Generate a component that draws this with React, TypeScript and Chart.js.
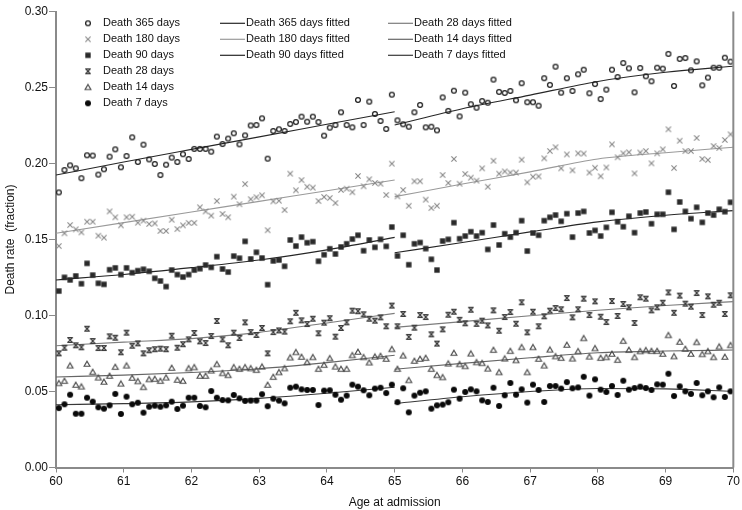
import React, { useEffect, useRef } from 'react';
import { Chart, registerables } from 'chart.js';

Chart.register(...registerables);

// ---- Observed death rates (monthly age groups, 60.0 - 70.0) ----
const death365 = [
  0.181, 0.1957, 0.1988, 0.1968, 0.1903, 0.2054, 0.2052, 0.1927, 0.1962, 0.2045,
  0.2093, 0.1975, 0.2049, 0.2172, 0.201, 0.2124, 0.2027, 0.1997, 0.1924, 0.1992,
  0.2039, 0.201, 0.2061, 0.203, 0.2096, 0.2096, 0.2096, 0.2078, 0.2177, 0.2128,
  0.2164, 0.2199, 0.2126, 0.2185, 0.225, 0.2253, 0.2297, 0.2032, 0.2214, 0.2225,
  0.2214, 0.226, 0.2273, 0.2308, 0.2275, 0.2308, 0.2273, 0.2183, 0.2236, 0.2253,
  0.2337, 0.2253, 0.2238, 0.2418, 0.2253, 0.2407, 0.2326, 0.228, 0.2227, 0.2453,
  0.2284, 0.2258, 0.2242, 0.2337, 0.2385, 0.2238, 0.2242, 0.2218, 0.2435, 0.2346,
  0.2479, 0.231, 0.2466, 0.239, 0.2367, 0.2411, 0.24, 0.2552, 0.2471, 0.2464,
  0.2477, 0.2416, 0.2528, 0.2403, 0.2403, 0.238, 0.2561, 0.2517, 0.2637, 0.2466,
  0.2561, 0.2477, 0.2587, 0.2617, 0.2462, 0.2523, 0.2424, 0.2486, 0.2617, 0.2569,
  0.2661, 0.2626, 0.2468, 0.2628, 0.2574, 0.2541, 0.263, 0.2624, 0.2721, 0.251,
  0.2688, 0.2694, 0.2613, 0.2672, 0.2514, 0.2565, 0.263, 0.263, 0.2696, 0.267,
];
const death180 = [
  0.1457, 0.1541, 0.1595, 0.1567, 0.1547, 0.1617, 0.1617, 0.1525, 0.1512, 0.1685,
  0.1646, 0.1593, 0.1646, 0.165, 0.1611, 0.1624, 0.1602, 0.1606, 0.1556, 0.1556,
  0.163, 0.1569, 0.1593, 0.1609, 0.1609, 0.1712, 0.1685, 0.1657, 0.1753, 0.1668,
  0.1646, 0.1782, 0.1732, 0.1865, 0.1765, 0.1778, 0.1791, 0.1561, 0.1751, 0.1755,
  0.1694, 0.1933, 0.1824, 0.1891, 0.1847, 0.1841, 0.1753, 0.178, 0.1773, 0.174,
  0.1826, 0.1834, 0.1811, 0.1918, 0.185, 0.1896, 0.1872, 0.1867, 0.1793, 0.1999,
  0.1784, 0.1826, 0.1722, 0.1883, 0.1883, 0.1762, 0.1707, 0.1722, 0.1924, 0.1872,
  0.203, 0.1867, 0.1931, 0.1907, 0.1887, 0.1968, 0.1847, 0.2018, 0.1933, 0.1948,
  0.194, 0.194, 0.2025, 0.1876, 0.1913, 0.1915, 0.2034, 0.2082, 0.2107, 0.1968,
  0.206, 0.1955, 0.2067, 0.2065, 0.194, 0.1972, 0.1916, 0.1974, 0.2126, 0.2041,
  0.2067, 0.2074, 0.1935, 0.2072, 0.2082, 0.2001, 0.2067, 0.2093, 0.2225, 0.197,
  0.215, 0.2082, 0.2082, 0.2168, 0.203, 0.2023, 0.2115, 0.2102, 0.2155, 0.2192,
];
const death90 = [
  0.1161, 0.1251, 0.1234, 0.126, 0.1209, 0.1343, 0.1266, 0.1212, 0.1205, 0.1301,
  0.1313, 0.1269, 0.1313, 0.1282, 0.1295, 0.1304, 0.1291, 0.1245, 0.1227, 0.119,
  0.1299, 0.1269, 0.1253, 0.1269, 0.1299, 0.1308, 0.1332, 0.1317, 0.1387, 0.1306,
  0.1286, 0.1391, 0.1377, 0.1488, 0.1372, 0.1416, 0.1378, 0.1203, 0.1359, 0.1365,
  0.1324, 0.1497, 0.1457, 0.1516, 0.1479, 0.1486, 0.1357, 0.14, 0.1439, 0.1405,
  0.1451, 0.1472, 0.1503, 0.1528, 0.1426, 0.1497, 0.1449, 0.1501, 0.1455, 0.1582,
  0.1392, 0.1528, 0.1334, 0.1472, 0.148, 0.144, 0.137, 0.1299, 0.149, 0.1501,
  0.1611, 0.1505, 0.1523, 0.1551, 0.1523, 0.1545, 0.1435, 0.1595, 0.1464, 0.1538,
  0.1516, 0.1545, 0.1624, 0.1424, 0.1543, 0.1528, 0.1624, 0.1646, 0.1661, 0.162,
  0.167, 0.1516, 0.1674, 0.1685, 0.1543, 0.156, 0.1523, 0.158, 0.1679, 0.1617,
  0.1584, 0.1653, 0.1545, 0.1674, 0.1681, 0.1604, 0.1666, 0.1666, 0.1811, 0.1567,
  0.1747, 0.1685, 0.1637, 0.1712, 0.1613, 0.1674, 0.1661, 0.1699, 0.1683, 0.1745,
];
const death28 = [
  0.0751, 0.0788, 0.0839, 0.0804, 0.0791, 0.0913, 0.0832, 0.0786, 0.0786, 0.0863,
  0.0854, 0.0758, 0.0887, 0.0801, 0.0817, 0.0751, 0.0771, 0.0778, 0.0782, 0.0778,
  0.0867, 0.0788, 0.0811, 0.0843, 0.0885, 0.083, 0.0819, 0.0865, 0.0964, 0.0843,
  0.0804, 0.0887, 0.0852, 0.0955, 0.0891, 0.0872, 0.0918, 0.0751, 0.0891, 0.0902,
  0.0894, 0.0962, 0.1018, 0.0968, 0.0944, 0.0979, 0.0883, 0.0953, 0.0982, 0.0861,
  0.0918, 0.0955, 0.1032, 0.1028, 0.1008, 0.0979, 0.0966, 0.0988, 0.0929, 0.1065,
  0.0929, 0.101, 0.0859, 0.092, 0.1003, 0.099, 0.0876, 0.0815, 0.0909, 0.1005,
  0.1025, 0.0972, 0.0949, 0.1038, 0.0945, 0.0966, 0.0935, 0.1034, 0.09, 0.099,
  0.1023, 0.0946, 0.1087, 0.0889, 0.1025, 0.0929, 0.0995, 0.1032, 0.1049, 0.1041,
  0.1115, 0.0988, 0.1041, 0.1111, 0.1003, 0.1093, 0.0992, 0.0957, 0.1095, 0.0997,
  0.1076, 0.1054, 0.0951, 0.112, 0.1111, 0.1034, 0.1054, 0.1084, 0.1152, 0.1018,
  0.1131, 0.1078, 0.1058, 0.1148, 0.1003, 0.1126, 0.1071, 0.1084, 0.101, 0.1133,
];
const death14 = [
  0.0554, 0.0569, 0.067, 0.0543, 0.0532, 0.0681, 0.0628, 0.0591, 0.0563, 0.0602,
  0.0661, 0.0551, 0.067, 0.0589, 0.0567, 0.0528, 0.058, 0.0582, 0.0569, 0.0591,
  0.0655, 0.0576, 0.0569, 0.0652, 0.0659, 0.0602, 0.0602, 0.0637, 0.0679, 0.062,
  0.0607, 0.0659, 0.0648, 0.0659, 0.0652, 0.0641, 0.0663, 0.0543, 0.0595, 0.0626,
  0.0652, 0.0723, 0.0758, 0.0727, 0.0692, 0.0725, 0.0648, 0.0674, 0.0718, 0.0663,
  0.0648, 0.0648, 0.0738, 0.076, 0.0725, 0.069, 0.0729, 0.0733, 0.0714, 0.0778,
  0.0648, 0.0736, 0.0574, 0.0701, 0.0714, 0.072, 0.0648, 0.0607, 0.0593, 0.0683,
  0.0753, 0.0679, 0.0666, 0.0749, 0.0692, 0.0686, 0.065, 0.0773, 0.0626, 0.0716,
  0.0766, 0.0705, 0.0791, 0.0626, 0.0791, 0.0714, 0.067, 0.0775, 0.0731, 0.072,
  0.0806, 0.0716, 0.0764, 0.085, 0.0729, 0.0784, 0.072, 0.0725, 0.0747, 0.0707,
  0.0832, 0.0773, 0.0725, 0.0764, 0.0771, 0.0766, 0.0766, 0.0747, 0.087, 0.0731,
  0.0826, 0.078, 0.0747, 0.0824, 0.0745, 0.0764, 0.0725, 0.0795, 0.0727, 0.0804,
];
const death7 = [
  0.0391, 0.0416, 0.0479, 0.0354, 0.0354, 0.0459, 0.0433, 0.0396, 0.0387, 0.0409,
  0.0484, 0.0352, 0.0466, 0.0416, 0.0426, 0.0361, 0.04, 0.0407, 0.04, 0.0409,
  0.0433, 0.0385, 0.0407, 0.0459, 0.0459, 0.0405, 0.0396, 0.0503, 0.0459, 0.0444,
  0.0442, 0.0477, 0.0455, 0.0438, 0.044, 0.044, 0.0482, 0.0403, 0.0453, 0.044,
  0.0422, 0.0525, 0.0532, 0.0514, 0.051, 0.051, 0.0411, 0.0506, 0.0508, 0.0479,
  0.0446, 0.0473, 0.0545, 0.0532, 0.0508, 0.0475, 0.0519, 0.0525, 0.049, 0.0545,
  0.043, 0.0521, 0.0363, 0.0473, 0.0492, 0.0501, 0.0387, 0.0409, 0.0414, 0.0429,
  0.0512, 0.0453, 0.0497, 0.0514, 0.0501, 0.0442, 0.0431, 0.0525, 0.0405, 0.0475,
  0.0556, 0.0479, 0.0514, 0.0427, 0.0545, 0.051, 0.0431, 0.0536, 0.0536, 0.0519,
  0.0562, 0.0521, 0.0527, 0.0597, 0.0473, 0.058, 0.0512, 0.0497, 0.0536, 0.0477,
  0.0571, 0.0512, 0.0523, 0.0532, 0.0523, 0.051, 0.0547, 0.0545, 0.0617, 0.047,
  0.0534, 0.0501, 0.0484, 0.0556, 0.0475, 0.0501, 0.0462, 0.0527, 0.0464, 0.0501,
];

// age at admission of each monthly group (mid-month)
const ages = death7.map((_, i) => 60 + (i + 0.5) / 12);

// ---- Fitted curves: before 65 and from 65 ----
const fitAgesA = [60, 61, 62, 63, 64, 65];
const fitAgesB = [65, 66, 67, 68, 69, 70];
const fit365A = [0.1924, 0.201, 0.2093, 0.2175, 0.2258, 0.2341];
const fit365B = [0.2253, 0.236, 0.245, 0.254, 0.26, 0.264];
const fit180A = [0.1541, 0.1611, 0.1681, 0.1751, 0.1821, 0.1891];
const fit180B = [0.1782, 0.1865, 0.1945, 0.203, 0.2071, 0.2107];
const fit90A = [0.1234, 0.127, 0.1315, 0.1365, 0.1432, 0.1514];
const fit90B = [0.1413, 0.148, 0.155, 0.1616, 0.166, 0.169];
const fit28A = [0.0801, 0.0825, 0.0848, 0.0889, 0.0951, 0.1014];
const fit28B = [0.0922, 0.096, 0.0998, 0.1035, 0.1066, 0.1091];
const fit14A = [0.0595, 0.0608, 0.0625, 0.065, 0.069, 0.0738];
const fit14B = [0.0646, 0.0685, 0.0722, 0.0755, 0.0766, 0.0773];
const fit7A = [0.0413, 0.042, 0.0432, 0.0455, 0.0488, 0.0528];
const fit7B = [0.042, 0.0465, 0.05, 0.052, 0.0517, 0.05];

const seriesLabels = ['Death 365 days', 'Death 180 days', 'Death 90 days', 'Death 28 days', 'Death 14 days', 'Death 7 days'];
const fittedLabels = ['Death 365 days fitted', 'Death 180 days fitted', 'Death 90 days fitted', 'Death 28 days fitted', 'Death 14 days fitted', 'Death 7 days fitted'];

const FONT = '"Liberation Sans", Arial, Helvetica, sans-serif';

type MarkerKind = 'circle' | 'cross' | 'square' | 'hourglass' | 'triangle' | 'dot';

function makeMarker(kind: MarkerKind): HTMLCanvasElement {
  const s = 10;
  const c = document.createElement('canvas');
  c.width = s;
  c.height = s;
  const g = c.getContext('2d')!;
  const m = s / 2;
  g.lineWidth = 1.1;
  switch (kind) {
    case 'circle':
      g.strokeStyle = '#1e1e1e';
      g.lineWidth = 1.25;
      g.beginPath();
      g.arc(m, m, 2.4, 0, Math.PI * 2);
      g.stroke();
      break;
    case 'cross':
      g.strokeStyle = '#888';
      g.beginPath();
      g.moveTo(m - 2.6, m - 2.6);
      g.lineTo(m + 2.6, m + 2.6);
      g.moveTo(m + 2.6, m - 2.6);
      g.lineTo(m - 2.6, m + 2.6);
      g.stroke();
      break;
    case 'square':
      g.fillStyle = '#2a2a2a';
      g.fillRect(m - 2.7, m - 2.7, 5.4, 5.4);
      break;
    case 'hourglass':
      g.strokeStyle = '#3c3c3c';
      g.lineWidth = 1.3;
      g.beginPath();
      g.moveTo(m - 2.3, m - 2.4);
      g.lineTo(m + 2.3, m + 2.4);
      g.moveTo(m + 2.3, m - 2.4);
      g.lineTo(m - 2.3, m + 2.4);
      g.moveTo(m - 2.8, m - 2.4);
      g.lineTo(m + 2.8, m - 2.4);
      g.moveTo(m - 2.8, m + 2.4);
      g.lineTo(m + 2.8, m + 2.4);
      g.stroke();
      break;
    case 'triangle':
      g.strokeStyle = '#4a4a4a';
      g.lineWidth = 1.15;
      g.beginPath();
      g.moveTo(m, m - 2.8);
      g.lineTo(m + 2.9, m + 2.2);
      g.lineTo(m - 2.9, m + 2.2);
      g.closePath();
      g.stroke();
      break;
    case 'dot':
      g.fillStyle = '#0a0a0a';
      g.beginPath();
      g.arc(m, m, 3, 0, Math.PI * 2);
      g.fill();
      break;
  }
  return c;
}

export default function App() {
  const ref = useRef<HTMLCanvasElement>(null);

  useEffect(() => {
    if (!ref.current) return;
    const kinds: MarkerKind[] = ['circle', 'cross', 'square', 'hourglass', 'triangle', 'dot'];
    const markers = kinds.map(makeMarker);
    const observed = [death365, death180, death90, death28, death14, death7];
    const fitsA = [fit365A, fit180A, fit90A, fit28A, fit14A, fit7A];
    const fitsB = [fit365B, fit180B, fit90B, fit28B, fit14B, fit7B];
    const fitColors = ['#262626', '#9a9a9a', '#262626', '#7c7c7c', '#666666', '#383838'];

    const datasets: any[] = [];
    observed.forEach((vals, si) => {
      datasets.push({
        label: seriesLabels[si],
        data: vals.map((y, i) => ({ x: ages[i], y })),
        pointStyle: markers[si],
        pointRadius: 3,
        showLine: false,
      });
    });
    fitsA.forEach((vals, si) => {
      [fitAgesA, fitAgesB].forEach((xs, part) => {
        const v = part === 0 ? vals : fitsB[si];
        datasets.push({
          label: fittedLabels[si] + (part ? ' (65+)' : ''),
          data: xs.map((x, i) => ({ x, y: v[i] })),
          showLine: true,
          pointRadius: 0,
          borderColor: fitColors[si],
          borderWidth: 1.1,
          cubicInterpolationMode: 'monotone',
        });
      });
    });

    const decor = {
      id: 'decor',
      afterDraw(chart: any) {
        const ctx = chart.ctx as CanvasRenderingContext2D;
        const a = chart.chartArea;
        ctx.save();
        ctx.strokeStyle = '#8a8a8a';
        ctx.lineWidth = 2;
        ctx.beginPath();
        ctx.moveTo(a.right, a.top);
        ctx.lineTo(a.right, a.bottom);
        ctx.stroke();

        const rows = [23.3, 39.3, 55.3, 71.3, 87.3, 103.3];
        ctx.font = `11px ${FONT}`;
        ctx.fillStyle = '#111';
        ctx.textBaseline = 'middle';
        ctx.textAlign = 'left';
        seriesLabels.forEach((lab, i) => {
          const mk = markers[i];
          ctx.drawImage(mk, 88 - mk.width / 2, rows[i] - mk.height / 2);
          ctx.fillText(lab, 103, rows[i]);
        });
        fittedLabels.forEach((lab, i) => {
          const col = i < 3 ? 0 : 1;
          const r = rows[i % 3];
          const x0 = col === 0 ? 220 : 388;
          const x1 = col === 0 ? 245 : 413;
          ctx.strokeStyle = fitColors[i];
          ctx.lineWidth = 1.2;
          ctx.beginPath();
          ctx.moveTo(x0, r);
          ctx.lineTo(x1, r);
          ctx.stroke();
          ctx.fillText(lab, x1 + 1, r);
        });
        ctx.restore();
      },
    };

    const chart = new Chart(ref.current, {
      type: 'scatter',
      data: { datasets },
      options: {
        animation: false,
        responsive: false,
        devicePixelRatio: 1,
        layout: { padding: { top: 11.5, right: 7.5, left: 0, bottom: 0 } },
        plugins: { legend: { display: false }, tooltip: { enabled: false } },
        scales: {
          x: {
            type: 'linear',
            min: 60,
            max: 70,
            afterFit: (s: any) => { s.height = 42.5; },
            border: { color: '#8a8a8a', width: 2 },
            grid: { drawOnChartArea: false, drawTicks: true, tickLength: 5, color: '#8a8a8a', lineWidth: 1 },
            ticks: {
              stepSize: 1,
              padding: 2,
              color: '#111',
              font: { family: FONT, size: 12 },
              callback: (v: any) => String(v),
            },
            title: {
              display: true,
              text: 'Age at admission',
              color: '#111',
              font: { family: FONT, size: 12 },
              padding: { top: 0, bottom: 0 },
            },
          },
          y: {
            type: 'linear',
            min: 0,
            max: 0.3,
            afterFit: (s: any) => { s.width = 56; },
            border: { color: '#8a8a8a', width: 2 },
            grid: { drawOnChartArea: false, drawTicks: true, tickLength: 7, color: '#8a8a8a', lineWidth: 1 },
            ticks: {
              stepSize: 0.05,
              padding: 1,
              color: '#111',
              font: { family: FONT, size: 12 },
              callback: (v: any) => Number(v).toFixed(2),
            },
            title: {
              display: true,
              text: 'Death rate  (fraction)',
              color: '#111',
              font: { family: FONT, size: 12 },
              padding: { top: 3, bottom: 0 },
            },
          },
        },
      },
      plugins: [decor],
    });
    return () => chart.destroy();
  }, []);

  return (
    <div style={{ position: 'absolute', left: 0, top: 0, width: 742, height: 510, background: '#fff' }}>
      <canvas ref={ref} width={742} height={510} style={{ width: 742, height: 510, display: 'block' }} />
    </div>
  );
}
